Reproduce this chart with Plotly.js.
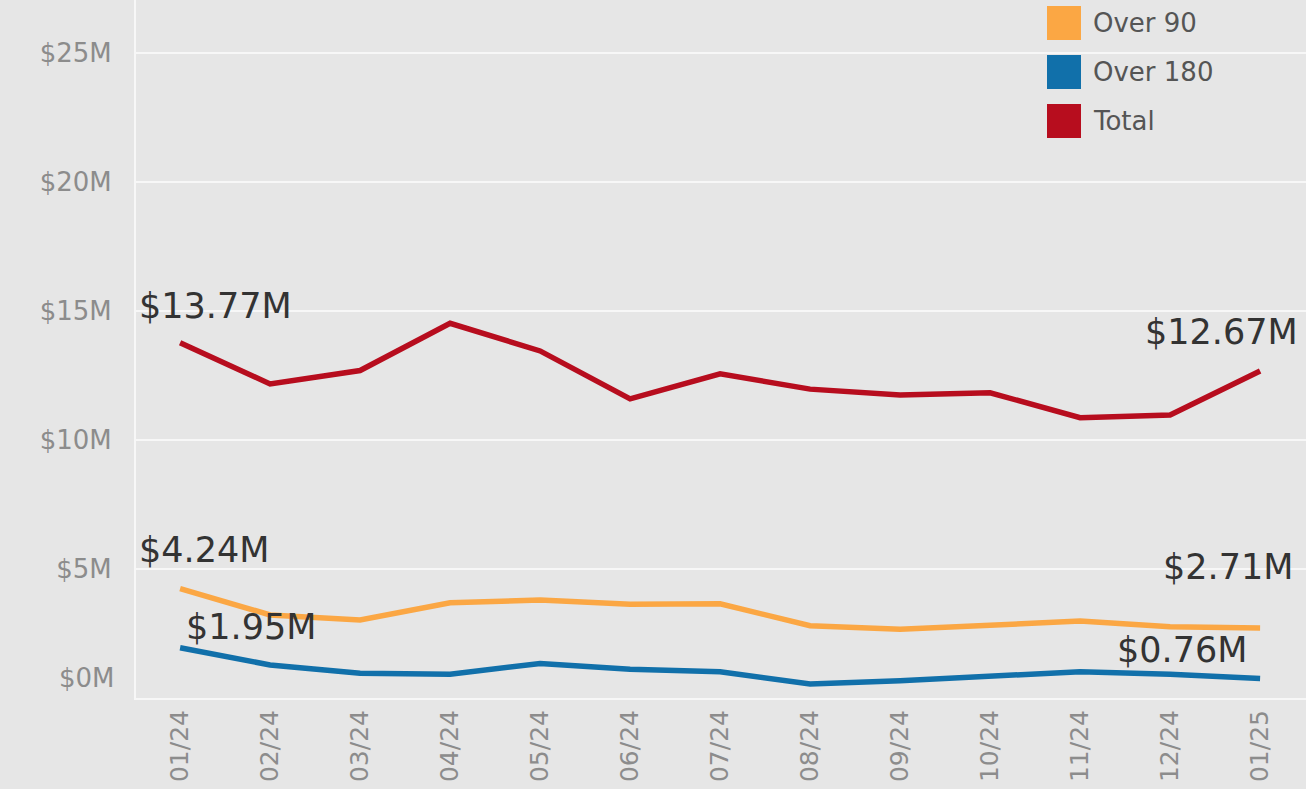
<!DOCTYPE html>
<html>
<head>
<meta charset="utf-8">
<script src="https://cdn.plot.ly/plotly-3.0.1.min.js"></script>
<style>
html,body{margin:0;padding:0;background:#e6e6e6;}
#chart{width:1306px;height:789px;}
</style>
</head>
<body>
<div id="chart"></div>
<script>
const months = ['01/24','02/24','03/24','04/24','05/24','06/24','07/24','08/24','09/24','10/24','11/24','12/24','01/25'];
const total = [13.77,12.17,12.69,14.52,13.45,11.59,12.56,11.97,11.74,11.83,10.86,10.97,12.67];
const over90 = [4.24,3.22,3.02,3.69,3.80,3.63,3.65,2.80,2.66,2.80,2.98,2.76,2.71];
const over180 = [1.95,1.28,0.96,0.92,1.34,1.11,1.02,0.54,0.67,0.83,1.02,0.92,0.76];
const seriesNames = ['Over 90','Over 180','Total'];
const seriesColors = ['#fba744','#1170aa','#b70d1e'];
const yTickVals = [0,5,10,15,20,25];

const FONT = 'DejaVu Sans, Verdana, sans-serif';
const fmt = v => '$' + v.toFixed(2) + 'M';

const seriesData = [over90, over180, total];
const traces = seriesData.map((d, i) => ({
  x: months, y: d, type: 'scatter', mode: 'lines', name: seriesNames[i],
  line: {color: seriesColors[i], width: 5.5, shape: 'linear'},
  showlegend: false, hoverinfo: 'skip'
}));
// draw order: Total, Over 90, Over 180
const ordered = [traces[2], traces[0], traces[1]];

const last = months.length - 1;
const labelFont = {family: FONT, size: 35, color: '#333333'};
const annotations = [
  {x: months[0], y: total[0], text: fmt(total[0]), xshift: 35, yshift: 37},
  {x: months[0], y: over90[0], text: fmt(over90[0]), xshift: 24, yshift: 39},
  {x: months[0], y: over180[0], text: fmt(over180[0]), xshift: 71, yshift: 21},
  {x: months[last], y: total[last], text: fmt(total[last]), xshift: -39, yshift: 39},
  {x: months[last], y: over90[last], text: fmt(over90[last]), xshift: -32, yshift: 61},
  {x: months[last], y: over180[last], text: fmt(over180[last]), xshift: -78, yshift: 28}
].map(a => Object.assign({xref: 'x', yref: 'y', showarrow: false, xanchor: 'center', yanchor: 'middle', font: labelFont}, a));

// $0M tick label (drawn raised, like the original)
annotations.push({xref: 'paper', yref: 'y', x: 0, y: 0, xanchor: 'right', yanchor: 'middle', xshift: -19, yshift: 20,
  text: '$' + yTickVals[0] + 'M', showarrow: false, font: {family: FONT, size: 26, color: '#8c8c8c'}});

// legend (squares + labels)
const plotW = 1306 - 136, plotH = 698;
const shapes = [];
seriesNames.forEach((n, i) => {
  const top = 6 + i * 49, bot = top + 34;
  shapes.push({type: 'rect', xref: 'paper', yref: 'paper', layer: 'above',
    x0: (1047 - 136) / plotW, x1: (1081 - 136) / plotW,
    y0: (plotH - bot) / plotH, y1: (plotH - top) / plotH,
    fillcolor: seriesColors[i], line: {width: 0}});
  annotations.push({xref: 'paper', yref: 'paper', x: (1091 - 136) / plotW, y: (plotH - (top + 17)) / plotH,
    xanchor: 'left', yanchor: 'middle', showarrow: false, text: n,
    font: {family: FONT, size: 26, color: '#555555'}});
});

const layout = {
  width: 1306, height: 789,
  margin: {l: 136, r: 0, t: 0, b: 91, pad: 0},
  paper_bgcolor: '#e6e6e6', plot_bgcolor: '#e6e6e6',
  showlegend: false,
  xaxis: {
    type: 'category', range: [-0.49, 12.51], tickangle: -90,
    showgrid: false, zeroline: false, showline: true, linecolor: '#f7f7f7', linewidth: 2,
    ticks: '', ticklabelstandoff: 0,
    tickfont: {family: FONT, size: 25, color: '#8c8c8c'}, automargin: false, fixedrange: true
  },
  yaxis: {
    range: [0, 27.05], tickvals: yTickVals,
    ticktext: yTickVals.map(v => v === 0 ? '' : '$' + v + 'M'),
    showgrid: true, gridcolor: '#f7f7f7', gridwidth: 2,
    zeroline: false, showline: true, linecolor: '#f7f7f7', linewidth: 2,
    ticks: '', ticklabelstandoff: 17,
    tickfont: {family: FONT, size: 26, color: '#8c8c8c'}, automargin: false, fixedrange: true
  },
  annotations: annotations,
  shapes: shapes
};

Plotly.newPlot('chart', ordered, layout, {displayModeBar: false, staticPlot: true});
</script>
</body>
</html>
